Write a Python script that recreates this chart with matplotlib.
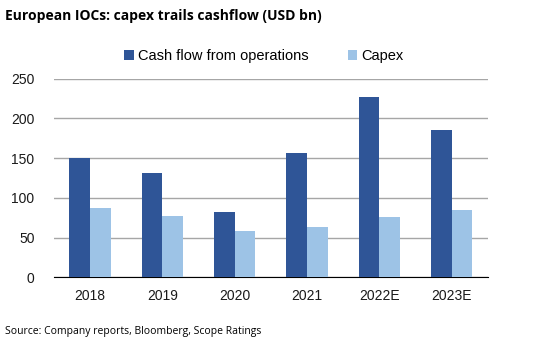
import matplotlib.pyplot as plt
import numpy as np

years = ['2018', '2019', '2020', '2021', '2022E', '2023E']
cfo = [150, 131, 82, 156, 227, 185]
capex = [87, 77, 59, 63, 76, 85]

dark = '#2F5597'
light = '#9DC3E6'

fig = plt.figure(figsize=(5.5, 3.49), dpi=100)
ax = fig.add_axes([0.098, 0.205, 0.789, 0.57])

x = np.arange(len(years))
w = 0.286
ax.bar(x - w / 2, cfo, w, color=dark, label='Cash flow from operations', zorder=3)
ax.bar(x + w / 2, capex, w, color=light, label='Capex', zorder=3)

ax.set_xlim(-0.5, len(years) - 0.5)
ax.set_ylim(0, 250)
ax.set_yticks([0, 50, 100, 150, 200, 250])
ax.set_xticks(x)
ax.set_xticklabels(years)
ax.yaxis.grid(True, color='#A6A6A6', linewidth=1, zorder=0)
for s in ['top', 'right', 'left']:
    ax.spines[s].set_visible(False)
ax.spines['bottom'].set_color('black')
ax.tick_params(axis='both', length=0, labelsize=10, labelcolor='#1a1a1a')
ax.tick_params(axis='y', pad=14)
ax.tick_params(axis='x', pad=8)
for lab in ax.get_xticklabels() + ax.get_yticklabels():
    lab.set_family('Liberation Sans')

leg = fig.legend(loc='center', bbox_to_anchor=(0.48, 0.84), ncol=2, frameon=False,
                 handlelength=0.65, handleheight=0.65, handletextpad=0.3, columnspacing=2.7,
                 prop={'family': 'Liberation Sans', 'size': 10.5})

fig.text(0.009, 0.955, 'European IOCs: capex trails cashflow (USD bn)', fontsize=10,
         fontweight='bold', family='Open Sans', va='center', ha='left')
fig.text(0.009, 0.05, 'Source: Company reports, Bloomberg, Scope Ratings', fontsize=7.5,
         family='Open Sans', va='center', ha='left')

fig.savefig('out.png', dpi=100)
